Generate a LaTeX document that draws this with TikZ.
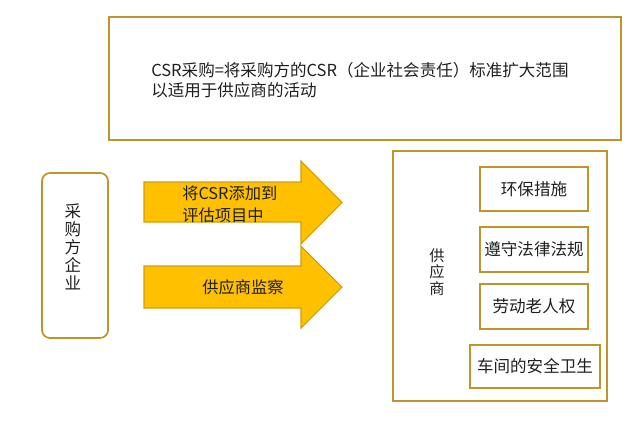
\documentclass[tikz,border=0pt]{standalone}
\usepackage{fontspec}
\setmainfont{Noto Sans CJK SC}
\usepackage{tikz}
\usetikzlibrary{positioning}
\definecolor{ink}{HTML}{1F1F1F}
\definecolor{gold}{HTML}{BF9429}
\definecolor{amber}{HTML}{FFC000}
\definecolor{amberline}{HTML}{CFA00C}

\begin{document}
\begin{tikzpicture}[x=0.75pt, y=-0.75pt,
    frame/.style={draw=gold, line width=1.3pt},
    item/.style={frame, inner sep=0pt, text=ink, font=\fontsize{12.4}{15}\selectfont},
    blockarrow/.style={fill=amber, draw=amberline, line width=0.8pt, line join=miter}]
  \useasboundingbox (0,0) rectangle (640,426);
  % definition at the top
  \draw[frame] (109,17) rectangle (621,140);
  \node[anchor=west, inner sep=0pt, align=left, text=ink, font=\fontsize{12.4}{15}\selectfont] (defn) at (151,80)
       {CSR采购=将采购方的CSR（企业社会责任）标准扩大范围\\以适用于供应商的活动};
  % buyer
  \draw[frame, rounded corners=6pt] (42,173) rectangle (108,338);
  \node[align=center, inner sep=0pt, text=ink, font=\fontsize{12.4}{13.5}\selectfont] (buyer) at (73,247)
       {采\\购\\方\\企\\业};
  % the two arrows
  \draw[blockarrow] (144,182) -- (301,182) -- (301,161) -- (342,202.5) -- (301,244) -- (301,222) -- (144,222) -- cycle;
  \draw[blockarrow] (144,266) -- (301,266) -- (301,246) -- (342,287) -- (301,328) -- (301,308) -- (144,308) -- cycle;
  \node[anchor=west, inner sep=0pt, align=left, text=ink, font=\fontsize{12.2}{16.5}\selectfont] (addcsr) at (182,204)
       {将CSR添加到\\评估项目中};
  \node[inner sep=0pt, text=ink, font=\fontsize{12.2}{15}\selectfont] (audit) at (243,287) {供应商监察};
  % supplier
  \draw[frame] (393,151) rectangle (607,401);
  \node[align=center, inner sep=0pt, text=ink, font=\fontsize{11.4}{12.4}\selectfont] (supplier) at (437,272)
       {供\\应\\商};
  \foreach \nm/\cx/\cy/\w/\h/\txt in {env/534/189/81/33/环保措施, law/534/249.5/81/33.8/遵守法律法规,
      labour/534/306.5/81/33.8/劳动老人权, safety/535/366.5/97.5/32.3/车间的安全卫生}{
    \node[item, minimum width=\w pt, minimum height=\h pt] (\nm) at (\cx,\cy) {\txt};
  }
\end{tikzpicture}
\end{document}
